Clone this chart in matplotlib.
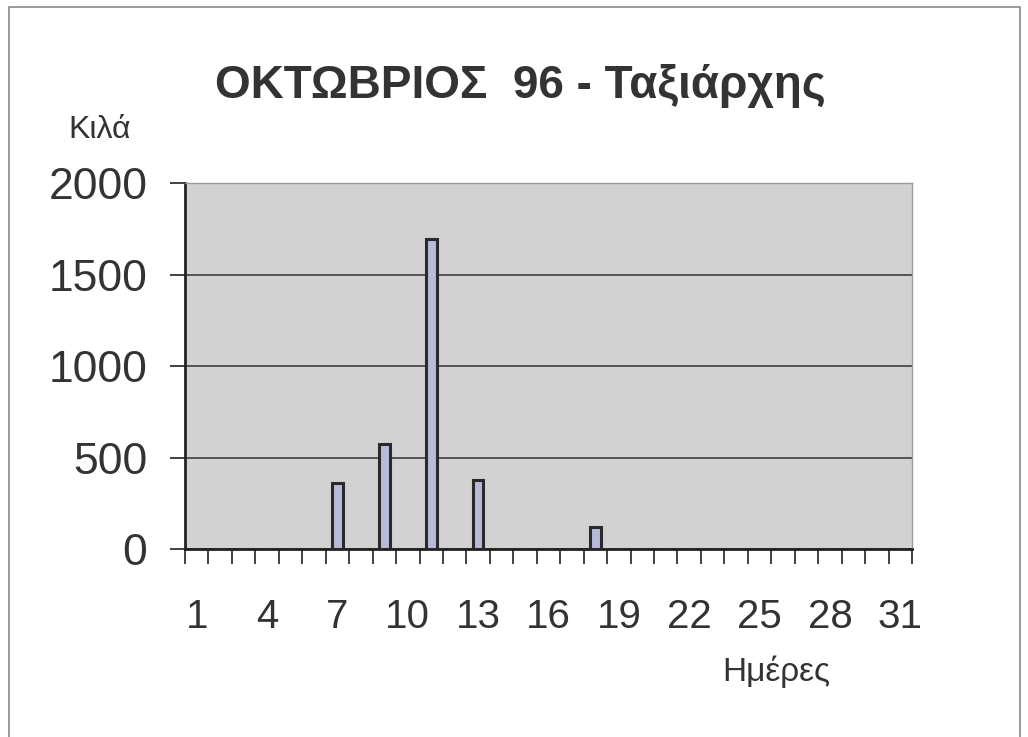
import matplotlib
matplotlib.use("Agg")
import matplotlib.pyplot as plt
from matplotlib.patches import Rectangle
from matplotlib.ticker import FixedLocator

days = list(range(1, 32))
bar_days = [7, 9, 11, 13, 18]
bar_values = [360, 575, 1692, 377, 122]
values = [0] * 31
for d, v in zip(bar_days, bar_values):
    values[d - 1] = v
xtick_labels = [1, 4, 7, 10, 13, 16, 19, 22, 25, 28, 31]
yticks = [0, 500, 1000, 1500, 2000]

title = "ΟΚΤΩΒΡΙΟΣ  96 - Ταξιάρχης"
ylabel = "Κιλά"
xlabel = "Ημέρες"

plt.rcParams['font.family'] = ['Liberation Sans', 'DejaVu Sans']

fig = plt.figure(figsize=(10.28, 7.37), dpi=100)
ax = fig.add_axes([185/1028, 1-549/737, (912-185)/1028, (549-183)/737])
ax.set_facecolor('#d2d2d2')

ax.bar(days, values, width=0.45, color='#b7bad8', edgecolor='#2a2a2a', linewidth=2.2, zorder=3)

ax.set_xlim(0.5, 31.5)
ax.set_ylim(0, 2000)
ax.set_yticks(yticks)
ax.set_yticklabels([str(v) for v in yticks])
ax.yaxis.grid(True, color='#4a4a4a', linewidth=1.3, zorder=1)
ax.set_axisbelow(True)

ax.set_xticks(xtick_labels)
ax.set_xticklabels([str(v) for v in xtick_labels])
ax.xaxis.set_minor_locator(FixedLocator([d + 0.5 for d in [0] + days]))
ax.tick_params(axis='x', which='major', length=0, pad=35, labelsize=29, labelcolor='#333333')
ax.tick_params(axis='x', which='minor', length=11, width=1.3, color='#333333', direction='out')
ax.tick_params(axis='y', which='major', length=11, width=1.3, color='#333333', pad=16,
               labelsize=32, labelcolor='#333333')

for s in ['top', 'right']:
    ax.spines[s].set_color('#9a9a9a')
    ax.spines[s].set_linewidth(1.0)
for s in ['left', 'bottom']:
    ax.spines[s].set_color('#222222')
    ax.spines[s].set_linewidth(2.0)

fig.text(520/1028, 1-86/737, title, ha='center', va='center', fontsize=33,
         fontweight='bold', color='#333333')
fig.text(100/1028, 1-130/737, ylabel, ha='center', va='center', fontsize=23, color='#333333')
fig.text(776/1028, 1-672/737, xlabel, ha='center', va='center', fontsize=24, color='#333333')

fig.patches.append(Rectangle((9/1028, -0.01), (1020-9)/1028, 1-7/737+0.01,
                             transform=fig.transFigure, fill=False,
                             edgecolor='#8a8a8a', linewidth=1.2))

fig.savefig("out.png", dpi=100)
